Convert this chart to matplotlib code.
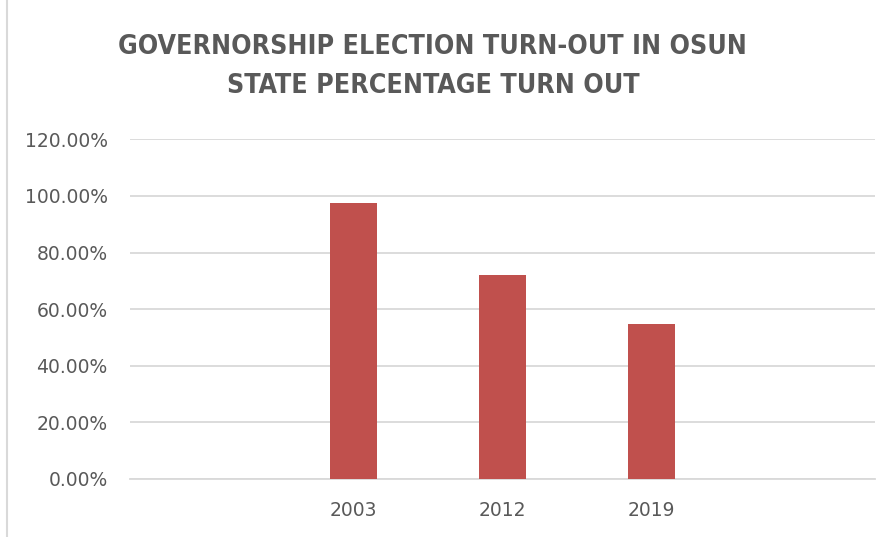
import matplotlib.pyplot as plt
from matplotlib.ticker import FuncFormatter
from matplotlib.lines import Line2D

# data
years = ['', '2003', '2012', '2019', '']
turnout = [0, 0.974, 0.721, 0.549, 0]

grey_text = '#595959'
grid_col = '#d9d9d9'
bar_col = '#c0504d'

fig = plt.figure(figsize=(8.94, 5.37), dpi=100)
ax = fig.add_axes([130/894, 1 - 479/537, 745/894, (479 - 139.3)/537])

x = range(len(years))
ax.bar(x, turnout, width=0.315, color=bar_col, zorder=3)

ax.set_xlim(-0.5, len(years) - 0.5)
ax.set_ylim(0, 1.2)
ax.set_yticks([0, 0.2, 0.4, 0.6, 0.8, 1.0, 1.2])
ax.yaxis.set_major_formatter(FuncFormatter(lambda v, p: f'{v*100:.2f}%'))
ax.set_xticks(list(x))
ax.set_xticklabels(years)

ax.grid(axis='y', color=grid_col, linewidth=1.3, zorder=0)
for s in ['top', 'right', 'left']:
    ax.spines[s].set_visible(False)
ax.spines['bottom'].set_color(grid_col)
ax.spines['bottom'].set_linewidth(1.3)
ax.tick_params(axis='both', length=0, colors=grey_text, labelsize=13.5)
ax.tick_params(axis='y', pad=16)
ax.tick_params(axis='x', pad=16)

title_font = dict(ha='center', va='center', fontsize=19.2, fontweight='bold',
                  color=grey_text, family='DejaVu Sans', fontstretch='condensed')
fig.text(432/894, 1 - 47/537, 'GOVERNORSHIP ELECTION TURN-OUT IN OSUN', **title_font)
fig.text(433/894, 1 - 86/537, 'STATE PERCENTAGE TURN OUT', **title_font)

# chart border on the left
fig.add_artist(Line2D([7/894, 7/894], [0, 1], transform=fig.transFigure,
                      color=grid_col, linewidth=1.5))

fig.savefig('out.png', dpi=100)
